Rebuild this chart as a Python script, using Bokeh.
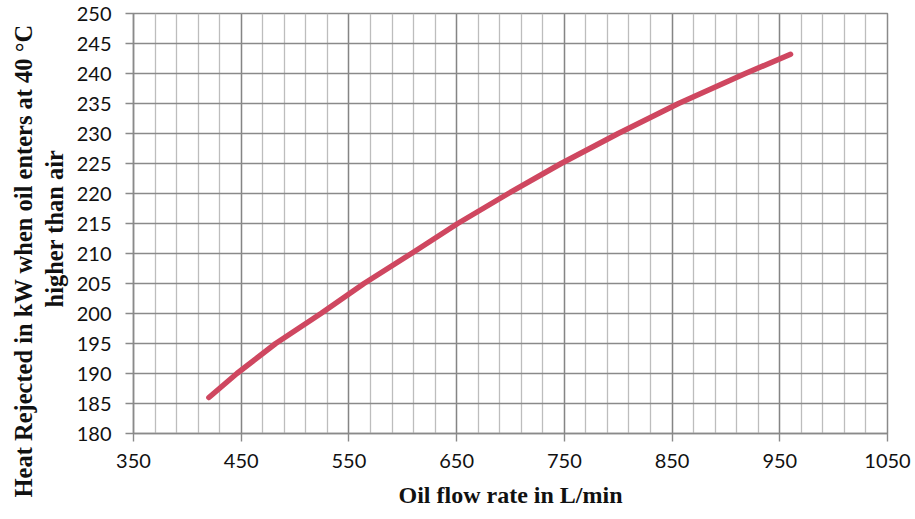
from bokeh.plotting import figure
from bokeh.models import FixedTicker, Range1d, Title
from bokeh.embed import file_html
from bokeh.resources import INLINE

flow = [420, 446, 482, 524, 564, 608, 651, 698, 747, 800, 856, 918, 960]
heat = [186.0, 190.0, 195.0, 200.0, 205.0, 210.0, 215.0, 220.0, 225.0, 230.0, 235.0, 240.0, 243.2]

x_ticks = [350, 450, 550, 650, 750, 850, 950, 1050]
x_minor = list(range(350, 1051, 20))
y_ticks = list(range(180, 251, 5))

x_title = "Oil flow rate in L/min"
y_title_1 = "Heat Rejected in kW when oil enters at 40 \u00b0C"
y_title_2 = "higher than air"

p = figure(width=915, height=519, frame_width=754, frame_height=420,
           output_backend="svg", toolbar_location=None,
           x_range=Range1d(350, 1050), y_range=Range1d(180, 250),
           min_border_left=133, min_border_top=13, min_border_right=28, min_border_bottom=86)
p.background_fill_color = "white"
p.border_fill_color = "white"
p.outline_line_color = "#8a8a8a"
p.outline_line_width = 1.5

p.line(flow, heat, line_color="#CF4760", line_width=5.5, line_cap="round", line_join="round")

p.xaxis.ticker = FixedTicker(ticks=x_ticks, minor_ticks=x_minor)
p.yaxis.ticker = FixedTicker(ticks=y_ticks)

p.xgrid.grid_line_color = "#858585"
p.xgrid.grid_line_width = 1.4
p.xgrid.minor_grid_line_color = "#bdbdbd"
p.xgrid.minor_grid_line_width = 1.3
p.ygrid.grid_line_color = "#8a8a8a"
p.ygrid.grid_line_width = 1.4

for ax in (p.xaxis, p.yaxis):
    ax.axis_line_color = "#8a8a8a"
    ax.axis_line_width = 1.5
    ax.major_tick_line_color = "#8a8a8a"
    ax.major_tick_line_width = 1.4
    ax.major_tick_in = 0
    ax.major_tick_out = 8
    ax.minor_tick_line_color = None
    ax.major_label_text_font = "Lato"
    ax.major_label_text_font_size = "20px"
    ax.major_label_text_color = "#111111"
    ax.axis_label_text_font = "Liberation Serif"
    ax.axis_label_text_font_style = "bold"
    ax.axis_label_text_font_size = "24px"
    ax.axis_label_text_color = "#111111"

p.xaxis.major_label_standoff = 12
p.yaxis.major_label_standoff = 14
p.xaxis.axis_label = x_title
p.xaxis.axis_label_standoff = 11

for txt, off, so in ((y_title_2, 126, 12), (y_title_1, -64, -9)):
    p.add_layout(Title(text=txt, align="left", offset=off, standoff=so,
                       text_font="Liberation Serif", text_font_style="bold",
                       text_font_size="24.5px", text_color="#111111"), "left")

open("out.html", "w").write(file_html(p, INLINE))
